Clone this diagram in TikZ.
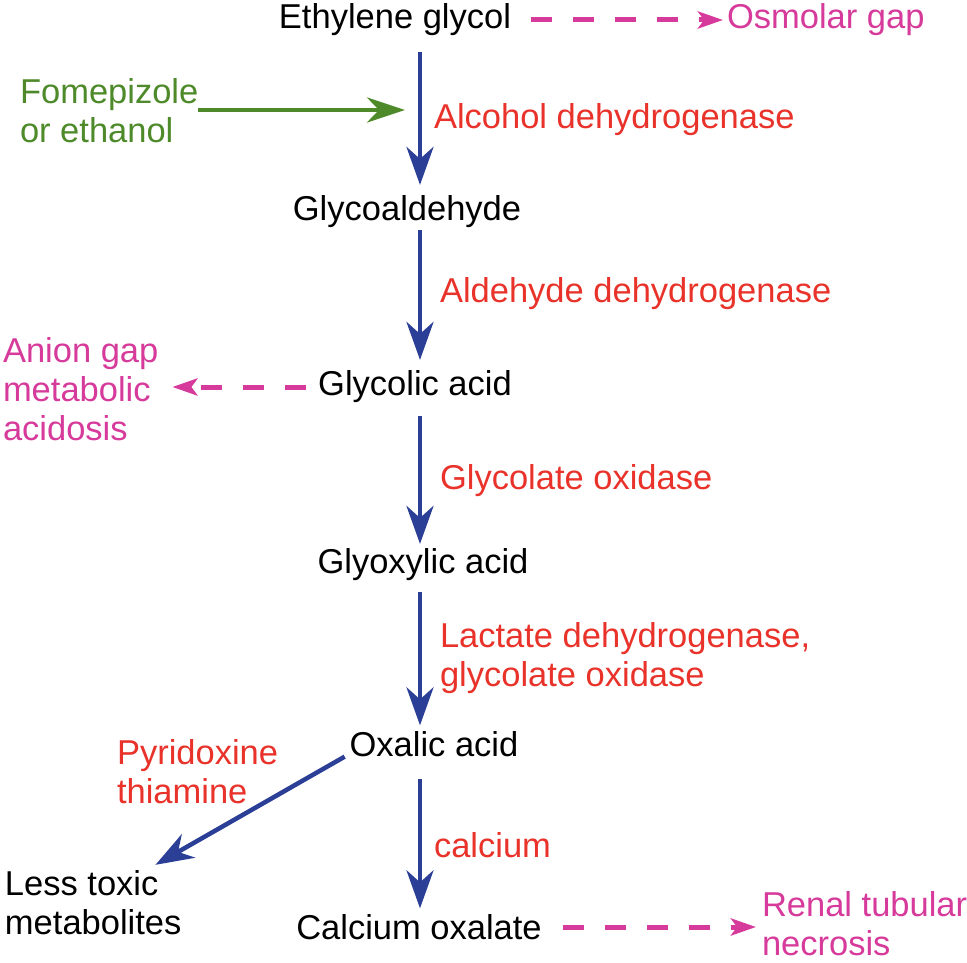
\documentclass[tikz,border=0pt]{standalone}
\usepackage{fontspec}
\setmainfont{Liberation Sans}
\usetikzlibrary{arrows.meta}
\definecolor{pblue}{RGB}{43,63,150}
\definecolor{pred}{RGB}{232,50,42}
\definecolor{pmag}{RGB}{214,58,154}
\definecolor{pgreen}{RGB}{78,138,42}
\begin{document}
\begin{tikzpicture}[x=1pt,y=-1pt,
  every node/.style={inner sep=0pt,outer sep=0pt,font=\fontsize{34.5}{39}\selectfont},
  chem/.style={text=black},
  enz/.style={text=pred,anchor=west,align=left},
  eff/.style={text=pmag,anchor=west,align=left},
  mainarrow/.style={draw=pblue,line width=4.5pt,-{Stealth[length=38pt,width=27pt,inset=12pt]}},
  greenarrow/.style={draw=pgreen,line width=4.5pt,-{Stealth[length=38pt,width=25pt,inset=12pt]}},
  dasharrow/.style={draw=pmag,line width=5pt,dash pattern=on 21pt off 21pt,-{Stealth[length=25pt,width=17pt,inset=6pt]}}]
\useasboundingbox (0,0) rectangle (967,963);
\coordinate (ax) at (420,0);
% chemicals
\node[chem] (eg) at (395,20) {Ethylene glycol};
\node[chem] (gal) at (407,212) {Glycoaldehyde};
\node[chem] (gca) at (415,387) {Glycolic acid};
\node[chem] (gxa) at (423,565) {Glyoxylic acid};
\node[chem] (oxa) at (434,744) {Oxalic acid};
\node[chem] (cao) at (419,927) {Calcium oxalate};
\node[chem,anchor=west,align=left] (ltm) at (5,903) {Less toxic\\metabolites};
% enzymes
\node[enz] (adh) at (434,120) {Alcohol dehydrogenase};
\node[enz] (aldh) at (440,294) {Aldehyde dehydrogenase};
\node[enz] (go) at (440,481) {Glycolate oxidase};
\node[enz] (ldh) at (440,658) {Lactate dehydrogenase,\\glycolate oxidase};
\node[enz] (pyr) at (117,772) {Pyridoxine\\thiamine};
\node[enz] (cal) at (434,845) {calcium};
% effects
\node[eff] (osm) at (727,20) {Osmolar gap};
\node[eff] (agm) at (3,389) {Anion gap\\metabolic\\acidosis};
\node[eff] (rtn) at (762,924) {Renal tubular\\necrosis};
\node[text=pgreen,anchor=west,align=left] (fom) at (20,111) {Fomepizole\\or ethanol};
% main arrows
\draw[mainarrow] ([yshift=-16pt]eg.south -| ax) -- ([yshift=11pt]gal.north -| ax);
\draw[mainarrow] ([yshift=-2pt]gal.south -| ax) -- ([yshift=11pt]gca.north -| ax);
\draw[mainarrow] ([yshift=-13pt]gca.south -| ax) -- ([yshift=5pt]gxa.north -| ax);
\draw[mainarrow] ([yshift=-11pt]gxa.south -| ax) -- ([yshift=6pt]oxa.north -| ax);
\draw[mainarrow] ([yshift=-22pt]oxa.south -| ax) -- ([yshift=6pt]cao.north -| ax);
\draw[mainarrow] ([xshift=-5pt,yshift=0pt]oxa.south west) -- ([xshift=-26pt,yshift=6pt]ltm.north east);
% inhibitor arrow
\coordinate (inh) at (405,110);
\draw[greenarrow] ([xshift=0pt]fom.east |- inh) -- (inh);
% dashed effect arrows
\draw[dasharrow] ([xshift=20pt]eg.east) -- ([xshift=-4pt]osm.west);
\draw[dasharrow] ([xshift=-12pt]gca.west) -- ([xshift=14pt]gca.west -| agm.east);
\draw[dasharrow] ([xshift=21pt]cao.east) -- ([xshift=-6pt]rtn.west |- cao.east);
\end{tikzpicture}
\end{document}
